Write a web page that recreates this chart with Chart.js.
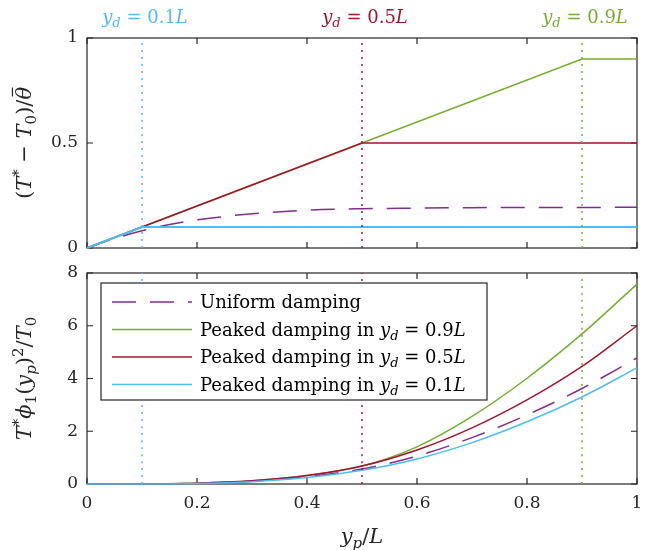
<!DOCTYPE html>
<html>
<head>
<meta charset="utf-8">
<script src="https://cdn.jsdelivr.net/npm/chart.js@4.4.0/dist/chart.umd.min.js"></script>
<style>
  body { margin: 0; background: #fff; }
  #wrap { position: relative; width: 647px; height: 550px; }
  #topChart { position: absolute; left: 0; top: 0; }
  #bottomChart { position: absolute; left: 0; top: 260px; }
</style>
</head>
<body>
<div id="wrap">
  <canvas id="topChart" width="647" height="260"></canvas>
  <canvas id="bottomChart" width="647" height="290"></canvas>
</div>
<script>
// ---- data ----
var xTicks = [0, 0.2, 0.4, 0.6, 0.8, 1];
var topYTicks = [0, 0.5, 1];
var bottomYTicks = [0, 2, 4, 6, 8];
var ydMarks = [0.1, 0.5, 0.9];
var ydLabels = ['0.1', '0.5', '0.9'];

// top panel: (T* - T0)/theta
var uniformTopX = [0, 0.05, 0.1, 0.15, 0.2, 0.25, 0.3, 0.4, 0.5, 0.6, 0.7, 0.8, 0.9, 1.0];
var uniformTopY = [0, 0.045, 0.082, 0.112, 0.134, 0.150, 0.163, 0.180, 0.187, 0.190, 0.192, 0.193, 0.193, 0.194];
var peak09TopX = [0, 0.9, 1];
var peak09TopY = [0, 0.9, 0.9];
var peak05TopX = [0, 0.5, 1];
var peak05TopY = [0, 0.5, 0.5];
var peak01TopX = [0, 0.1, 1];
var peak01TopY = [0, 0.1, 0.1];

// bottom panel: T* phi1(yp)^2 / T0
var bottomX = [0, 0.1, 0.2, 0.3, 0.4, 0.5, 0.6, 0.7, 0.8, 0.9, 1.0];
var uniformBottom = [0, 0.002, 0.025, 0.10, 0.28, 0.57, 1.06, 1.76, 2.62, 3.62, 4.78];
var peak09Bottom = [0, 0.003, 0.03, 0.12, 0.32, 0.68, 1.41, 2.56, 4.01, 5.69, 7.58];
var peak05Bottom = [0, 0.003, 0.03, 0.12, 0.32, 0.68, 1.29, 2.13, 3.19, 4.46, 6.00];
var peak01Bottom = [0, 0.002, 0.02, 0.09, 0.25, 0.52, 0.95, 1.57, 2.36, 3.30, 4.40];

var legendNames = ['Uniform damping', 'Peaked damping in', 'Peaked damping in', 'Peaked damping in'];

// MATLAB default colours
var cPurple = '#7E2F8E';
var cGreen = '#77AC30';
var cRed = '#A2142F';
var cBlue = '#4DBEEE';
var markColors = [cBlue, cRed, cGreen];
var axisColor = '#262626';
var serif = '"DejaVu Serif", "Liberation Serif", serif';

function pts(xs, ys) {
    var out = [];
    for (var i = 0; i < xs.length; i++) out.push({ x: xs[i], y: ys[i] });
    return out;
}

function markerSets(ymin, ymax) {
    var sets = [];
    for (var i = 0; i < ydMarks.length; i++) {
        sets.push({
            data: [{ x: ydMarks[i], y: ymin }, { x: ydMarks[i], y: ymax }],
            borderColor: markColors[i],
            borderWidth: 1.5,
            borderDash: [2, 5],
            pointRadius: 0
        });
    }
    return sets;
}

// small rich text helper: segments with italic / sub / sup / bar
function fontFor(s, size) {
    var sz = (s.sub || s.sup) ? Math.round(size * 0.7) : size;
    return (s.i ? 'italic ' : '') + sz + 'px ' + serif;
}
function drawRich(ctx, segs, x, y, size, color, rot, align) {
    ctx.save();
    ctx.translate(x, y);
    if (rot) ctx.rotate(rot);
    var w = 0;
    segs.forEach(function (s) { ctx.font = fontFor(s, size); w += ctx.measureText(s.t).width; });
    var cx = align === 'left' ? 0 : -w / 2;
    ctx.fillStyle = color;
    ctx.strokeStyle = color;
    ctx.textBaseline = 'alphabetic';
    ctx.textAlign = 'left';
    segs.forEach(function (s) {
        ctx.font = fontFor(s, size);
        var dy = s.sub ? size * 0.22 : (s.sup ? -size * 0.38 : 0);
        var tw = ctx.measureText(s.t).width;
        ctx.fillText(s.t, cx, dy + size * 0.35);
        if (s.bar) {
            ctx.lineWidth = 1.2;
            ctx.beginPath();
            ctx.moveTo(cx + tw * 0.25, -size * 0.55);
            ctx.lineTo(cx + tw * 0.95, -size * 0.55);
            ctx.stroke();
        }
        cx += tw;
    });
    ctx.restore();
}
function ydText(v) {
    return [{ t: 'y', i: true }, { t: 'd', i: true, sub: true }, { t: ' = ' + v }, { t: 'L', i: true }];
}
function tickText(v) {
    return String(Math.round(v * 10) / 10);
}

// box with inward ticks on all four sides, drawn under the curves
var boxPlugin = {
    id: 'matlabBox',
    beforeDatasetsDraw: function (chart) {
        var ctx = chart.ctx, a = chart.chartArea;
        var xs = chart.scales.x, ys = chart.scales.y;
        ctx.save();
        ctx.strokeStyle = axisColor;
        ctx.lineWidth = 1.2;
        ctx.strokeRect(a.left, a.top, a.right - a.left, a.bottom - a.top);
        var len = 6;
        ctx.beginPath();
        xTicks.forEach(function (v) {
            var px = xs.getPixelForValue(v);
            ctx.moveTo(px, a.bottom); ctx.lineTo(px, a.bottom - len);
            ctx.moveTo(px, a.top); ctx.lineTo(px, a.top + len);
        });
        chart.options.yTickList.forEach(function (v) {
            var py = ys.getPixelForValue(v);
            ctx.moveTo(a.left, py); ctx.lineTo(a.left + len, py);
            ctx.moveTo(a.right, py); ctx.lineTo(a.right - len, py);
        });
        ctx.stroke();
        ctx.restore();
    }
};

function baseScales(ymin, ymax, step, showX) {
    return {
        x: {
            type: 'linear', min: 0, max: 1,
            grid: { display: false, drawTicks: false },
            border: { display: false },
            ticks: { display: showX, stepSize: 0.2, padding: 9, color: axisColor, font: { family: serif, size: 17 }, callback: tickText },
            afterFit: function (s) { s.height = showX ? 66 : 0; s.paddingLeft = 0; s.paddingRight = 0; }
        },
        y: {
            min: ymin, max: ymax,
            grid: { display: false, drawTicks: false },
            border: { display: false },
            ticks: { stepSize: step, padding: 9, color: axisColor, font: { family: serif, size: 17 }, callback: tickText },
            afterFit: function (s) { s.width = 87; s.paddingTop = 0; s.paddingBottom = 0; }
        }
    };
}

var topDatasets = markerSets(0, 1).concat([
    { data: pts(peak01TopX, peak01TopY), borderColor: cBlue, borderWidth: 2 },
    { data: pts(uniformTopX, uniformTopY), borderColor: cPurple, borderWidth: 1.5, borderDash: [24, 14], cubicInterpolationMode: 'monotone' },
    { data: pts(peak05TopX, peak05TopY), borderColor: cRed, borderWidth: 1.5 },
    { data: pts(peak09TopX, peak09TopY), borderColor: cGreen, borderWidth: 1.5 }
]);

new Chart(document.getElementById('topChart'), {
    type: 'line',
    data: { datasets: topDatasets },
    options: {
        responsive: false,
        animation: false,
        clip: false,
        yTickList: topYTicks,
        layout: { padding: { left: 0, right: 10, top: 38, bottom: 12 } },
        elements: { point: { radius: 0 }, line: { tension: 0 } },
        plugins: { legend: { display: false }, tooltip: { enabled: false } },
        scales: baseScales(0, 1, 0.5, false)
    },
    plugins: [boxPlugin, {
        id: 'topText',
        afterDraw: function (chart) {
            var ctx = chart.ctx, xs = chart.scales.x;
            for (var i = 0; i < ydMarks.length; i++) {
                drawRich(ctx, ydText(ydLabels[i]), xs.getPixelForValue(ydMarks[i]) + 3, 17, 18, markColors[i]);
            }
            drawRich(ctx, [{ t: '(' }, { t: 'T', i: true }, { t: '*', sup: true }, { t: ' \u2212 ' }, { t: 'T', i: true },
                { t: '0', sub: true }, { t: ')/' }, { t: '\u03B8', i: true, bar: true }],
                24, 143, 21, axisColor, -Math.PI / 2);
        }
    }]
});

var bottomDatasets = markerSets(0, 8).concat([
    { data: pts(bottomX, peak01Bottom), borderColor: cBlue, borderWidth: 1.5 },
    { data: pts(bottomX, uniformBottom), borderColor: cPurple, borderWidth: 1.5, borderDash: [24, 14] },
    { data: pts(bottomX, peak05Bottom), borderColor: cRed, borderWidth: 1.5 },
    { data: pts(bottomX, peak09Bottom), borderColor: cGreen, borderWidth: 1.5 }
]);

var legendItems = [
    { name: legendNames[0], color: cPurple, dash: [24, 14], yd: null },
    { name: legendNames[1], color: cGreen, dash: [], yd: '0.9' },
    { name: legendNames[2], color: cRed, dash: [], yd: '0.5' },
    { name: legendNames[3], color: cBlue, dash: [], yd: '0.1' }
];

new Chart(document.getElementById('bottomChart'), {
    type: 'line',
    data: { datasets: bottomDatasets },
    options: {
        responsive: false,
        animation: false,
        clip: false,
        yTickList: bottomYTicks,
        layout: { padding: { left: 0, right: 10, top: 13, bottom: 0 } },
        elements: { point: { radius: 0 }, line: { cubicInterpolationMode: 'monotone' } },
        plugins: { legend: { display: false }, tooltip: { enabled: false } },
        scales: baseScales(0, 8, 2, true)
    },
    plugins: [boxPlugin, {
        id: 'bottomText',
        afterDraw: function (chart) {
            var ctx = chart.ctx, a = chart.chartArea;
            // legend
            var bx = a.left + 14, by = a.top + 10, bw = 386, bh = 117;
            ctx.save();
            ctx.fillStyle = '#fff';
            ctx.fillRect(bx, by, bw, bh);
            ctx.strokeStyle = axisColor;
            ctx.lineWidth = 1.2;
            ctx.strokeRect(bx, by, bw, bh);
            legendItems.forEach(function (it, k) {
                var ly = by + 19 + k * 27.5;
                ctx.beginPath();
                ctx.setLineDash(it.dash);
                ctx.strokeStyle = it.color;
                ctx.lineWidth = 1.5;
                ctx.moveTo(bx + 11, ly);
                ctx.lineTo(bx + 91, ly);
                ctx.stroke();
                ctx.setLineDash([]);
                var segs = [{ t: it.name }];
                if (it.yd) segs = [{ t: it.name + ' ' }].concat(ydText(it.yd));
                drawRich(ctx, segs, bx + 99, ly, 18, '#000', 0, 'left');
            });
            ctx.restore();
            // axis titles
            drawRich(ctx, [{ t: 'T', i: true }, { t: '*', sup: true }, { t: '\u03D5', i: true }, { t: '1', sub: true },
                { t: '(' }, { t: 'y', i: true }, { t: 'p', i: true, sub: true }, { t: ')' }, { t: '2', sup: true },
                { t: '/' }, { t: 'T', i: true }, { t: '0', sub: true }],
                24, (a.top + a.bottom) / 2, 21, axisColor, -Math.PI / 2);
            drawRich(ctx, [{ t: 'y', i: true }, { t: 'p', i: true, sub: true }, { t: '/' }, { t: 'L', i: true }],
                (a.left + a.right) / 2, 276, 21, axisColor);
        }
    }]
});
</script>
</body>
</html>
